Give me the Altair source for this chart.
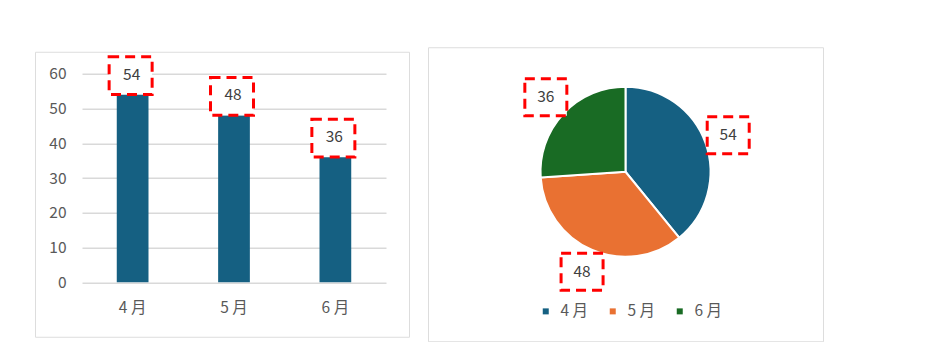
import altair as alt
import pandas as pd

months = ["4 月", "5 月", "6 月"]
values = [54, 48, 36]
order_idx = [1, 2, 3]
colors = ["#156082", "#E97132", "#196B24"]
y_ticks = [0, 10, 20, 30, 40, 50, 60]

df = pd.DataFrame({"month": months, "value": values, "idx": order_idx})

FONT = "Noto Sans CJK JP"
BOX = "M-1,-0.88L1,-0.88L1,0.88L-1,0.88Z"

# ---------- bar panel ----------
W1, H1 = 374, 285
xs = alt.X("month:N", sort=months,
           scale=alt.Scale(range=[47, 351], paddingInner=0.687, paddingOuter=0.343),
           axis=alt.Axis(title=None, labelAngle=0, domain=False, ticks=False, tickSize=0,
                         offset=-39, labelPadding=3, labelFont=FONT, labelFontSize=15.5,
                         labelColor="#595959", grid=False))
ys = alt.Y("value:Q",
           scale=alt.Scale(domain=[0, 60], range=[230.5, 22], nice=False, zero=True),
           axis=alt.Axis(title=None, values=y_ticks, domain=False, ticks=False, tickSize=0,
                         offset=-36, labelPadding=5, labelFont=FONT, labelFontSize=15.5,
                         labelColor="#595959", grid=True, gridColor="#d9d9d9", gridWidth=1.3))

bars = alt.Chart(df).mark_bar(color=colors[0]).encode(x=xs, y=ys)
boxes = alt.Chart(df).mark_point(shape=BOX, size=1849, fill="white", fillOpacity=1,
                                 stroke="#ff0000", strokeWidth=3, strokeDash=[10, 6],
                                 opacity=1, yOffset=-19, xOffset=-2).encode(
    x=alt.X("month:N", sort=months), y="value:Q")
texts = alt.Chart(df).mark_text(font=FONT, fontSize=15.5, color="#404040",
                                dy=-20, dx=-1).encode(
    x=alt.X("month:N", sort=months), y="value:Q", text="value:Q")

left = alt.layer(bars, boxes, texts).properties(width=W1, height=H1)

# ---------- pie panel ----------
W2, H2 = 395, 294
CX, CY, R, LR = 197.5, 124.5, 85, 109

pie = alt.Chart(df).mark_arc(outerRadius=R, stroke="white", strokeWidth=2).encode(
    theta=alt.Theta("value:Q", stack=True),
    order=alt.Order("idx:Q"),
    color=alt.Color("month:N", sort=months,
                    scale=alt.Scale(domain=months, range=colors),
                    legend=alt.Legend(title=None, orient="none", legendX=110, legendY=256,
                                      direction="horizontal",
                                      symbolType="square", symbolSize=36,
                                      symbolStrokeWidth=0, labelFont=FONT, labelFontSize=15.5,
                                      labelColor="#595959", labelOffset=7, columnPadding=16)),
    x=alt.value(CX), y=alt.value(CY),
)

lab_base = alt.Chart(df).transform_joinaggregate(
    total="sum(value)"
).transform_window(
    cum="sum(value)", sort=[alt.SortField("idx")], frame=[None, 0]
).transform_calculate(
    mid="(datum.cum - datum.value/2) / datum.total * 2 * PI"
).transform_calculate(
    lx=f"{CX} + {LR} * sin(datum.mid)",
    ly=f"{CY} - {LR} * cos(datum.mid)",
)

pie_boxes = lab_base.mark_point(shape=BOX, size=1764, fill="white", fillOpacity=1,
                                stroke="#ff0000", strokeWidth=3, strokeDash=[10, 6],
                                opacity=1).encode(
    x=alt.X("lx:Q", scale=None), y=alt.Y("ly:Q", scale=None))
pie_texts = lab_base.mark_text(font=FONT, fontSize=15.5, color="#404040").encode(
    x=alt.X("lx:Q", scale=None), y=alt.Y("ly:Q", scale=None), text="value:Q")

right = alt.layer(pie, pie_boxes, pie_texts).properties(width=W2, height=H2)

chart = alt.hconcat(left, right, spacing=17, center=True).resolve_legend(
    color="independent"
).resolve_scale(color="independent").properties(
    padding={"left": 34, "top": 46, "right": 0, "bottom": 0}
).configure_view(stroke="#d9d9d9", strokeWidth=1.5).configure(background="white")

chart.save("out.html", embed_options={"renderer": "svg", "actions": False})
